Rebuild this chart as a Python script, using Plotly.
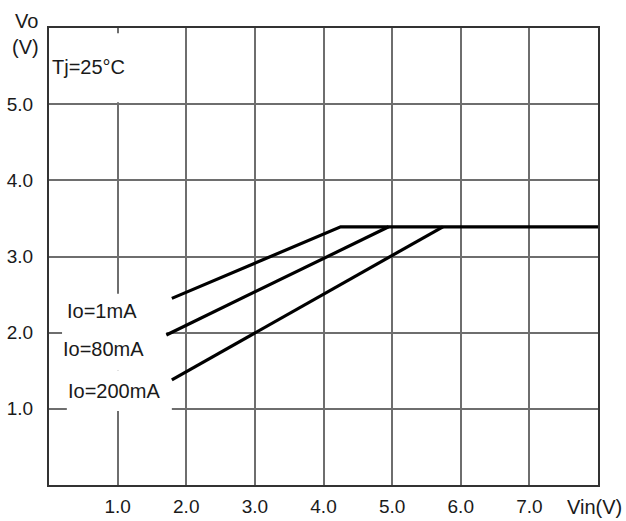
import plotly.graph_objects as go

# Data
vin_1ma = [1.79, 4.25, 8.0]
vo_1ma = [2.45, 3.39, 3.39]
vin_80ma = [1.71, 4.95]
vo_80ma = [1.97, 3.39]
vin_200ma = [1.79, 5.74]
vo_200ma = [1.38, 3.39]

x_tickvals = [1, 2, 3, 4, 5, 6, 7, 8]
x_ticktext = ["1.0", "2.0", "3.0", "4.0", "5.0", "6.0", "7.0", ""]
y_tickvals = [1, 2, 3, 4, 5]
y_ticktext = ["1.0", "2.0", "3.0", "4.0", "5.0"]

FONT = "Liberation Sans, Arial, sans-serif"
TXT = "#1a1a1a"
FS = 20
TFS = 19

fig = go.Figure()
for xs, ys in [(vin_1ma, vo_1ma), (vin_80ma, vo_80ma), (vin_200ma, vo_200ma)]:
    fig.add_trace(go.Scatter(x=xs, y=ys, mode="lines",
                             line=dict(color="black", width=3.2),
                             showlegend=False, hoverinfo="skip"))

axis_common = dict(showgrid=True, gridcolor="#6e6e6e", gridwidth=2,
                   showline=True, linecolor="#333333", linewidth=2, mirror=True,
                   zeroline=False, ticks="", fixedrange=True, automargin=False,
                   tickfont=dict(family=FONT, size=TFS, color=TXT))

fig.update_xaxes(range=[0, 8], tickvals=x_tickvals, ticktext=x_ticktext,
                 ticklabelstandoff=3, **axis_common)
fig.update_yaxes(range=[0, 6], tickvals=y_tickvals, ticktext=y_ticktext,
                 ticklabelstandoff=10, **axis_common)

# White masks covering gridlines behind the labels
for x0, x1, y0, y1 in [(0.19, 1.71, 1.5, 2.51), (0.26, 1.79, 0.97, 1.5),
                       (0.02, 1.97, 5.025, 5.93)]:
    fig.add_shape(type="rect", xref="x", yref="y", x0=x0, x1=x1, y0=y0, y1=y1,
                  fillcolor="white", line=dict(width=0), layer="between")

ann = dict(showarrow=False, font=dict(family=FONT, size=FS, color=TXT),
           xanchor="center", yanchor="middle")
fig.add_annotation(x=0.77, y=2.28, xref="x", yref="y", text="Io=1mA", **ann)
fig.add_annotation(x=0.79, y=1.78, xref="x", yref="y", text="Io=80mA", **ann)
fig.add_annotation(x=0.95, y=1.24, xref="x", yref="y", text="Io=200mA", **ann)
fig.add_annotation(x=0.02, y=5.49, xref="x", yref="y", text="Tj=25°C",
                   showarrow=False, font=dict(family=FONT, size=FS, color=TXT),
                   xanchor="left", yanchor="middle")
# axis titles positioned in page pixels, converted below
fig.add_annotation(x=26, y=21, xref="paper", yref="paper", text="Vo", **ann)
fig.add_annotation(x=25, y=47, xref="paper", yref="paper", text="(V)", **ann)
fig.add_annotation(x=594, y=507, xref="paper", yref="paper", text="Vin(V)", **ann)

W, H = 626, 521
ML, MR, MT, MB = 49, 28, 28, 36
pw, ph = W - ML - MR, H - MT - MB
for a in fig.layout.annotations:
    if a.xref == "paper":
        a.x = (a.x - ML) / pw
        a.y = 1 - (a.y - MT) / ph

fig.update_layout(width=W, height=H,
                  margin=dict(l=ML, r=MR, t=MT, b=MB, pad=0, autoexpand=False),
                  paper_bgcolor="white", plot_bgcolor="white",
                  showlegend=False)

fig.write_html("out.html", config={"displayModeBar": False},
               post_script="document.body.style.margin='0';"
                           "document.body.style.overflow='hidden';")
